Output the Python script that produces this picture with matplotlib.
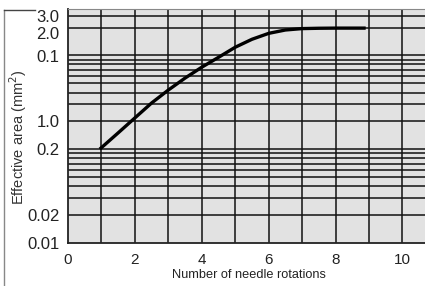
import numpy as np
import matplotlib
matplotlib.use("Agg")
import matplotlib.pyplot as plt
from matplotlib.lines import Line2D
from matplotlib.transforms import ScaledTranslation

# curve
rotations = [0.95, 1.5, 2, 2.5, 3, 3.5, 4, 4.5, 5, 5.5, 6, 6.5, 7, 7.5, 8, 8.9]
effective_area = [0.1, 0.149, 0.215, 0.31, 0.426, 0.571, 0.746, 0.95, 1.23,
                  1.51, 1.76, 1.92, 1.99, 2.01, 2.02, 2.02]

# y tick positions and the labels printed next to them (as in the original scan)
ytick_values = [0.01, 0.02, 0.1, 0.2, 1.0, 2.0, 3.0]
ytick_labels = ['0.01', '0.02', '0.2', '1.0', '0.1', '2.0', '3.0']
xtick_values = [0, 2, 4, 6, 8, 10]
xtick_labels = ['0', '2', '4', '6', '8', '10']

# horizontal grid lines of the log paper
hgrid = [3.0, 2.0, 1.0, 0.9, 0.8, 0.7, 0.6, 0.5, 0.4, 0.3, 0.2, 0.1,
         0.09, 0.08, 0.07, 0.06, 0.05, 0.04, 0.03, 0.02]
vgrid = [1, 2, 3, 4, 5, 6, 7, 8, 9, 10]

# the scan's log axis is not perfectly even, so map log10(value) -> height
_logs = np.array([-6.0, -2.0, -1.0, 0.0, np.log10(2), np.log10(3), 1.0, 4.0])
_pos = np.array([-378.0, 0.0, 94.5, 189.0, 216.0, 228.0, 273.0, 473.0])


def fwd(v):
    v = np.clip(np.asarray(v, dtype=float), 1e-6, None)
    return np.interp(np.log10(v), _logs, _pos)


def inv(p):
    return 10 ** np.interp(np.asarray(p, dtype=float), _pos, _logs)


plt.rcParams['font.family'] = ['Liberation Sans', 'DejaVu Sans']

fig = plt.figure(figsize=(4.25, 2.86), dpi=100)
ax = fig.add_axes([68 / 425, 1 - 243 / 286, 1 - 68 / 425 + 0.01, (243 - 9) / 286])
ax.set_facecolor('#e2e2e2')
ax.set_yscale('function', functions=(fwd, inv))
ax.set_ylim(0.01, 3.67)
ax.set_xlim(0, 10.8)

for v in hgrid:
    ax.axhline(v, color='#111111', lw=1.1, zorder=1)
for v in vgrid:
    ax.axvline(v, color='#111111', lw=1.1, zorder=1)

ax.plot(rotations, effective_area, color='black', lw=2.4,
        solid_capstyle='butt', solid_joinstyle='round', zorder=3)

ax.set_yticks(ytick_values)
ax.set_yticklabels(ytick_labels, fontsize=12)
ax.yaxis.set_minor_locator(matplotlib.ticker.NullLocator())
ax.set_xticks(xtick_values)
ax.set_xticklabels(xtick_labels, fontsize=11)
ax.tick_params(axis='both', length=0, colors='#222222')
ax.tick_params(axis='y', pad=6)
ax.tick_params(axis='x', pad=7)

# nudge the crowded top labels apart like in the scan
shifts = {'2.0': -5, '0.1': -1}
for lab in ax.get_yticklabels():
    dy = shifts.get(lab.get_text(), 0)
    if dy:
        lab.set_transform(lab.get_transform() + ScaledTranslation(0, dy / 100, fig.dpi_scale_trans))

ax.set_xlabel('Number of needle rotations', fontsize=9.2, color='#222222', labelpad=1.5)
fig.text(18 / 425, 1 - 137 / 286, 'Effective area (mm$^2$)', rotation=90,
         ha='center', va='center', fontsize=10.5, color='#333333')

for side in ['left', 'bottom']:
    ax.spines[side].set_color('#222222')
    ax.spines[side].set_linewidth(1.3)
ax.spines['top'].set_color('#888888')
ax.spines['top'].set_linewidth(0.8)
ax.spines['right'].set_visible(False)

# frame fragment around the chart
fig.add_artist(Line2D([4 / 425, 4 / 425], [0, 1 - 10 / 286], color='#888888', lw=1.0))
fig.add_artist(Line2D([4 / 425, 35 / 425], [1 - 10 / 286, 1 - 10 / 286], color='#444444', lw=1.0))

fig.savefig('out.png', dpi=100)
